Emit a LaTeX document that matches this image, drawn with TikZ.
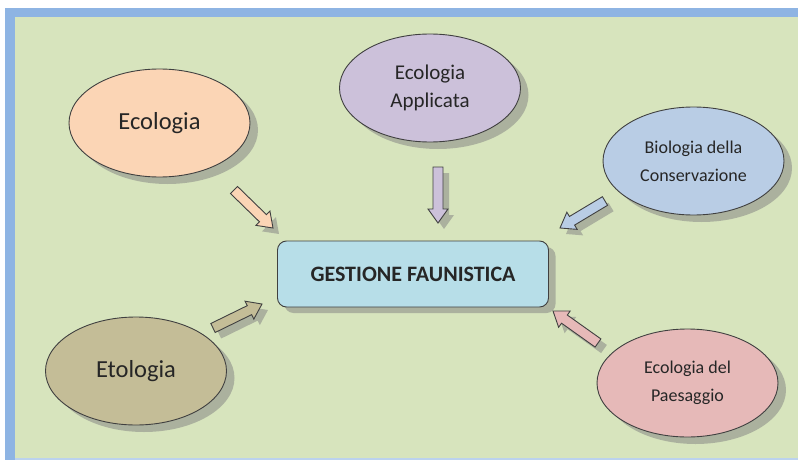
\documentclass[tikz,border=0pt]{standalone}
\usepackage{fontspec}
\setmainfont{Carlito}
\usetikzlibrary{shapes.geometric,shadows}

\definecolor{frameblue}{RGB}{142,180,227}
\definecolor{bggreen}{RGB}{215,228,189}
\definecolor{inkdark}{RGB}{38,38,38}
\definecolor{edgedark}{RGB}{64,64,64}
\definecolor{cEco}{RGB}{251,213,181}
\definecolor{cApp}{RGB}{204,193,218}
\definecolor{cBio}{RGB}{185,205,229}
\definecolor{cEto}{RGB}{196,189,151}
\definecolor{cPae}{RGB}{230,185,184}
\definecolor{cGest}{RGB}{183,222,232}

% block arrow from a tail coordinate to a tip coordinate, with a drop shadow
\newcommand\blockarr[3]{%
  \path (#2); \pgfgetlastxy{\bax}{\bay}%
  \path (#3); \pgfgetlastxy{\bbx}{\bby}%
  \pgfmathsetmacro\baang{atan2(\bby-\bay,\bbx-\bax)}%
  \pgfmathsetmacro\balen{veclen(\bbx-\bax,\bby-\bay)}%
  \begin{scope}[shift={(#2)}, xshift=6pt, yshift=-6pt, rotate=\baang]
    \fill[black!50, opacity=.5] (0,-5) -- (\balen-14,-5) -- (\balen-14,-10) -- (\balen,0)
      -- (\balen-14,10) -- (\balen-14,5) -- (0,5) -- cycle;
  \end{scope}
  \begin{scope}[shift={(#2)}, rotate=\baang]
    \filldraw[#1, draw=edgedark, line width=0.9pt, line join=miter]
      (0,-5) -- (\balen-14,-5) -- (\balen-14,-10) -- (\balen,0)
      -- (\balen-14,10) -- (\balen-14,5) -- (0,5) -- cycle;
  \end{scope}}

\begin{document}
\begin{tikzpicture}[x=1pt, y=-1pt,
  topic/.style={ellipse, draw=edgedark, line width=0.9pt, inner sep=0pt,
    minimum width=181pt, minimum height=108pt, align=center, text=inkdark,
    drop shadow={shadow xshift=8pt, shadow yshift=-7pt, fill=black!50, opacity=.5}},
  bigtxt/.style={font=\fontsize{24.5}{28}\selectfont},
  midtxt/.style={font=\fontsize{21}{28}\selectfont},
  smalltxt/.style={font=\fontsize{18}{28}\selectfont},
  centerbox/.style={rectangle, rounded corners=9pt, draw=edgedark, line width=0.9pt,
    fill=cGest, minimum width=271pt, minimum height=66pt, text=inkdark,
    font=\fontsize{22}{26}\selectfont\bfseries,
    drop shadow={shadow xshift=7pt, shadow yshift=-6pt, fill=black!50, opacity=.5}}]

\useasboundingbox (0,0) rectangle (798,460);
% page and framed panel
\fill[white] (0,0) rectangle (798,460);
\fill[frameblue] (5,8) rectangle (798,460);
\fill[bggreen] (15,17) rectangle (798,458);
\fill[frameblue!60] (15,458) rectangle (798,460);

% central box and surrounding topics
\node[centerbox] (gest) at (413,274) {GESTIONE FAUNISTICA};
\node[topic, fill=cEco, bigtxt] (eco) at (159.5,123) {Ecologia};
\node[topic, fill=cApp, midtxt] (app) at (430,88) {Ecologia\\Applicata};
\node[topic, fill=cBio, smalltxt] (bio) at (693.5,161) {Biologia della\\Conservazione};
\node[topic, fill=cEto, bigtxt] (eto) at (136,371) {Etologia};
\node[topic, fill=cPae, smalltxt] (pae) at (687.5,383) {Ecologia del\\Paesaggio};

% arrow ends
\coordinate (ecoT) at (234,190);
\coordinate (ecoH) at (273,228);
\coordinate (appT) at (438,167);
\coordinate (appH) at (438,223);
\coordinate (bioT) at (605,201);
\coordinate (bioH) at (560,228);
\coordinate (etoT) at (213,328);
\coordinate (etoH) at (262,304);
\coordinate (paeT) at (598,343);
\coordinate (paeH) at (553,311);

\blockarr{fill=cEco}{ecoT}{ecoH}
\blockarr{fill=cApp}{appT}{appH}
\blockarr{fill=cBio}{bioT}{bioH}
\blockarr{fill=cEto}{etoT}{etoH}
\blockarr{fill=cPae}{paeT}{paeH}

\end{tikzpicture}
\end{document}
